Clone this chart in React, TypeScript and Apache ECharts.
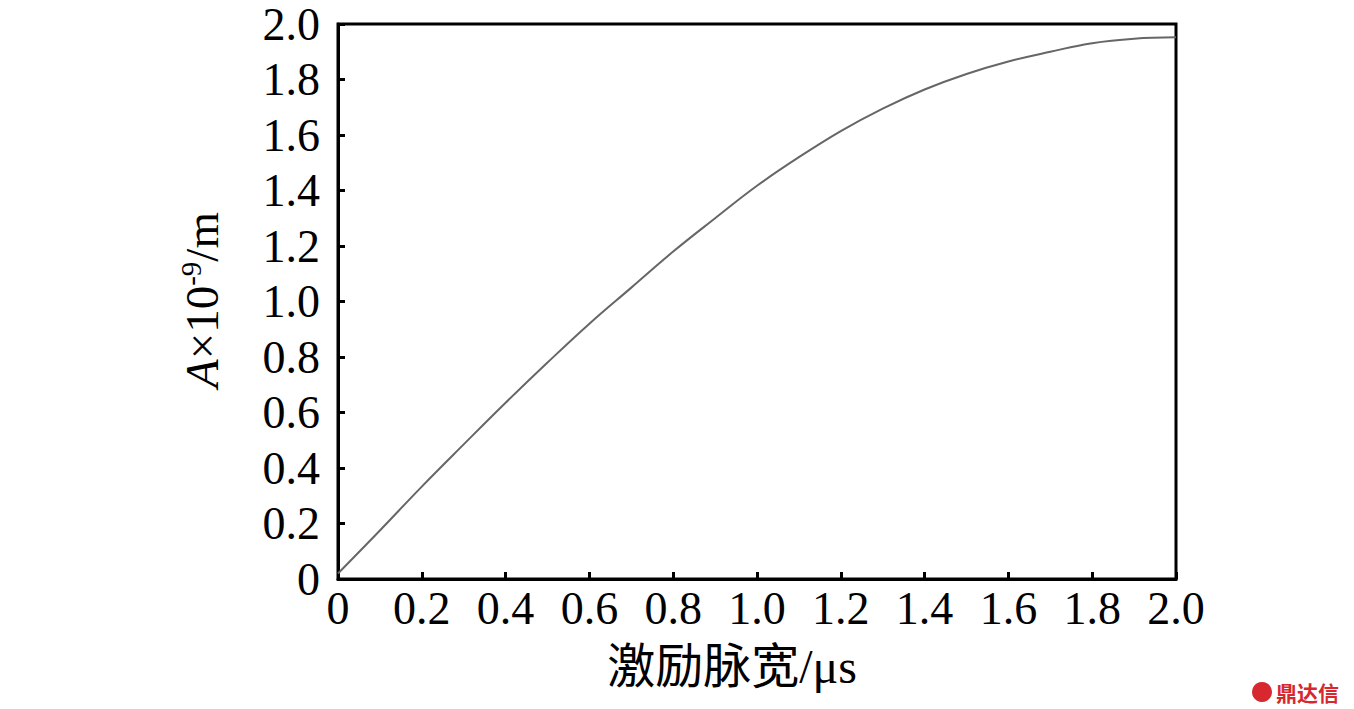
import { useEffect, useRef } from "react";
import * as echarts from "echarts";

// 激励脉宽 (μs) vs amplitude A (×10^-9 m)
const PULSE_WIDTH = [
  0, 0.1, 0.2, 0.3, 0.4, 0.5, 0.6, 0.7, 0.8, 0.9, 1.0,
  1.1, 1.2, 1.3, 1.4, 1.5, 1.6, 1.7, 1.8, 1.9, 2.0,
];
const AMPLITUDE = [
  0.02, 0.175, 0.333, 0.485, 0.635, 0.78, 0.92, 1.05, 1.18, 1.30, 1.417,
  1.52, 1.614, 1.695, 1.764, 1.82, 1.865, 1.90, 1.931, 1.947, 1.952,
];
const TICK_LABELS = ["0", "0.2", "0.4", "0.6", "0.8", "1.0", "1.2", "1.4", "1.6", "1.8", "2.0"];

const SERIF = "'Liberation Serif', 'Times New Roman', 'Noto Sans CJK SC', serif";

const tickLabel = (v: number) => TICK_LABELS[Math.round(v / 0.2)] ?? String(v);

export default function App() {
  const chartRef = useRef<HTMLDivElement>(null);

  useEffect(() => {
    if (!chartRef.current) return;
    const chart = echarts.init(chartRef.current, undefined, { renderer: "svg" });

    const axisCommon = {
      type: "value" as const,
      min: 0,
      max: 2,
      interval: 0.2,
      splitLine: { show: false },
      axisLine: { show: true, lineStyle: { color: "#000", width: 3 } },
      axisTick: { show: true, inside: true, length: 7, lineStyle: { color: "#000", width: 3 } },
    };

    chart.setOption({
      animation: false,
      backgroundColor: "#fff",
      grid: {
        left: 338,
        top: 24,
        right: 178,
        bottom: 130,
        show: true,
        borderColor: "#000",
        borderWidth: 3,
      },
      xAxis: {
        ...axisCommon,
        axisLabel: {
          formatter: tickLabel,
          fontFamily: SERIF,
          fontSize: 46,
          color: "#000",
          margin: 6,
        },
      },
      yAxis: {
        ...axisCommon,
        axisLabel: {
          formatter: tickLabel,
          fontFamily: SERIF,
          fontSize: 46,
          color: "#000",
          margin: 18,
        },
      },
      series: [
        {
          type: "line",
          data: PULSE_WIDTH.map((x, i) => [x, AMPLITUDE[i]]),
          smooth: 0.4,
          showSymbol: false,
          lineStyle: { color: "#666", width: 2 },
        },
      ],
      graphic: [
        {
          type: "text",
          x: 732,
          y: 666,
          style: {
            text: "激励脉宽/μs",
            font: `48px ${SERIF}`,
            fill: "#000",
            align: "center",
            verticalAlign: "middle",
          },
        },
        {
          type: "text",
          x: 202,
          y: 300,
          rotation: Math.PI / 2,
          style: {
            text: "{i|A}×10{sup|-9}/m",
            fontFamily: SERIF,
            fontSize: 47,
            lineHeight: 52,
            fill: "#000",
            align: "center",
            verticalAlign: "middle",
            rich: {
              i: { fontStyle: "italic", fontFamily: SERIF, fontSize: 47, lineHeight: 52 },
              sup: { fontFamily: SERIF, fontSize: 29, lineHeight: 29, verticalAlign: "top" },
            },
          },
        },
        {
          type: "circle",
          shape: { cx: 1262, cy: 692, r: 10 },
          style: { fill: "#d7282f" },
        },
        {
          type: "text",
          x: 1276,
          y: 692,
          style: {
            text: "鼎达信",
            font: "bold 21px 'Noto Sans CJK SC', sans-serif",
            fill: "#d7282f",
            align: "left",
            verticalAlign: "middle",
          },
        },
      ],
    });

    return () => chart.dispose();
  }, []);

  return (
    <div
      ref={chartRef}
      style={{ position: "fixed", left: 0, top: 0, width: "1354px", height: "709px" }}
    />
  );
}
